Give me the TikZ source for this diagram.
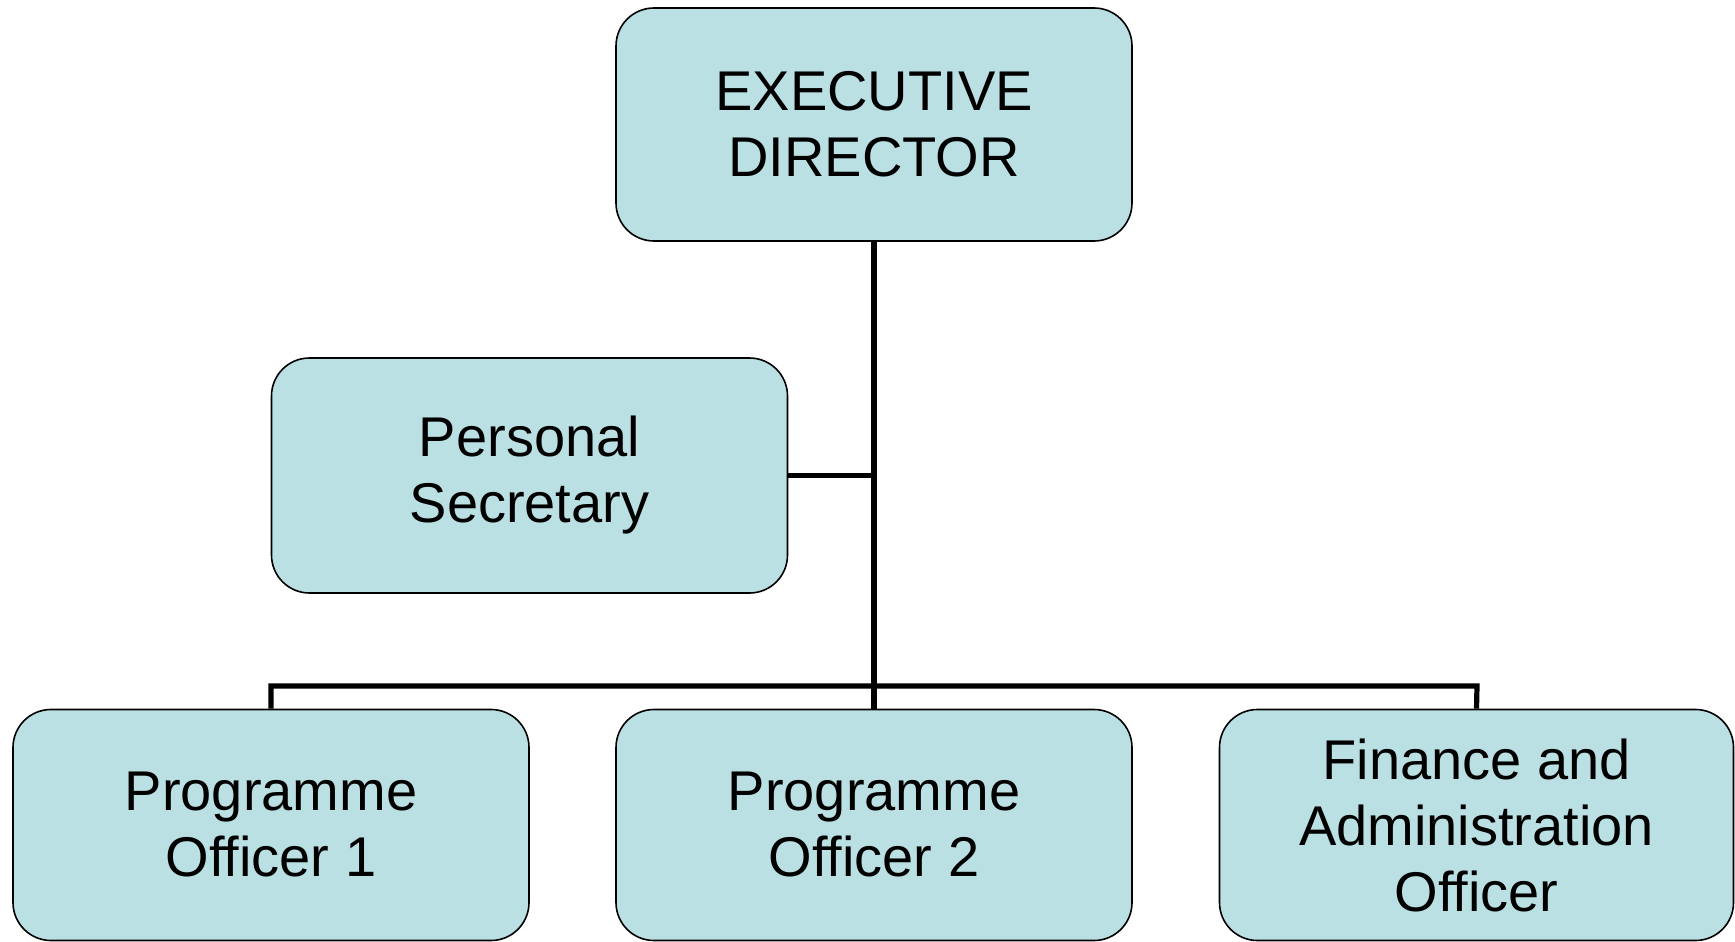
\documentclass[tikz,border=0pt]{standalone}
\usepackage{fontspec}
\setmainfont{Liberation Sans}
\begin{document}
\begin{tikzpicture}[x=1pt,y=1pt,
  orgbox/.style={draw=black, line width=1.6pt, fill=boxfill, rounded corners=38pt,
    minimum width=516pt, minimum height=233pt, inner sep=0pt,
    align=center, font=\fontsize{56}{66}\selectfont},
  link/.style={draw=black, line width=5.2pt}]
\definecolor{boxfill}{RGB}{187,224,227}
\useasboundingbox (0,0) rectangle (1735,-942);
\node[orgbox] (exec) at (874,-124.5) {EXECUTIVE\\DIRECTOR};
\node[orgbox, minimum height=235pt] (sec) at (529.5,-475.5) {Personal\\Secretary};
\node[orgbox, minimum height=231pt] (po1) at (271,-825) {Programme\\Officer 1};
\node[orgbox, minimum height=231pt] (po2) at (874,-825) {Programme\\Officer 2};
\node[orgbox, minimum height=231pt, minimum width=514pt] (fao) at (1476.5,-825) {Finance and\\Administration\\Officer};
\coordinate (barL) at (271,-686);
\coordinate (barR) at (1477,-686);
\coordinate (secJ) at (874,-475.5);
\draw[link] (exec.south) -- (po2.north);
\draw[link] (sec.east) -- (secJ);
\draw[link] (po1.north) -- (barL) -- (barR) -- (fao.north);
\end{tikzpicture}
\end{document}
